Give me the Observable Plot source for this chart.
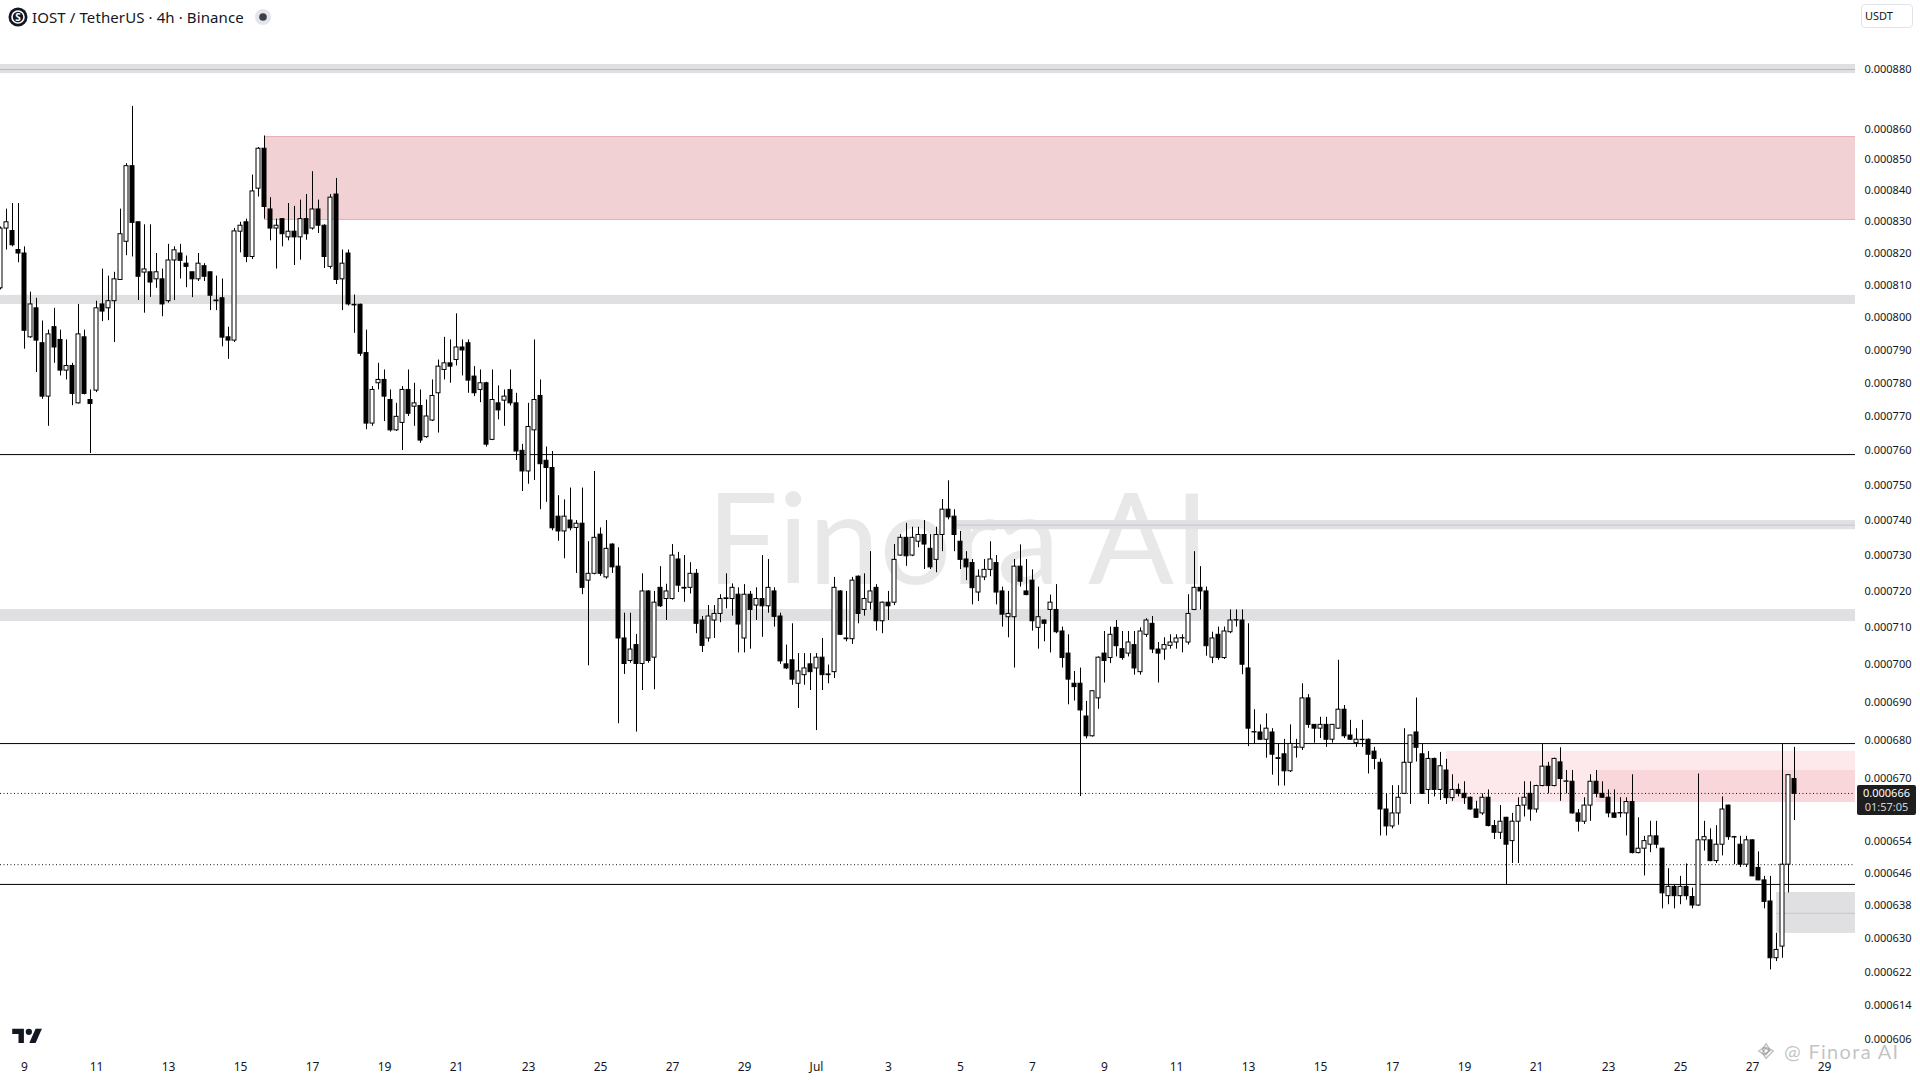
<!DOCTYPE html>
<html>
<head>
<meta charset="utf-8">
<script src="https://cdn.jsdelivr.net/npm/d3@7"></script>
<script src="https://cdn.jsdelivr.net/npm/@observablehq/plot@0.6"></script>
<style>
  html, body { margin: 0; padding: 0; background: #ffffff; }
  #wrap { position: relative; width: 1920px; height: 1080px; overflow: hidden;
          font-family: "Noto Sans", Roboto, sans-serif; color: #131722; }
  #wrap svg.plot { position: absolute; left: 0; top: 0; }
  .ov { position: absolute; white-space: nowrap; }
</style>
</head>
<body>
<div id="wrap"></div>
<script>
// ---------------- DATA ----------------
// Prices are in micro-USDT (1e-6 USDT); first visible 4h candle opens 2025-06-08 08:00 UTC
const UNIT = 1e-6;
const START = Date.UTC(2025, 5, 8, 8);
const STEP = 4 * 3600 * 1000;

const O = [809.0,827.8,827.0,821.0,819.9,793.9,802.8,792.1,776.0,797.0,793.1,783.8,785.2,774.0,793.9,775.0,777.8,804.0,802.8,805.0,
811.6,823.6,847.9,829.8,813.9,814.0,811.8,811.8,805.0,817.7,819.9,816.7,814.0,811.8,815.9,814.0,805.2,805.9,793.9,792.9,
826.8,829.8,818.8,840.6,853.6,833.9,827.8,830.8,825.0,826.8,825.0,830.8,827.8,833.9,828.7,815.7,838.7,811.8,819.9,803.9,
803.9,789.1,768.0,780.0,781.0,775.0,766.0,768.2,778.0,773.0,773.2,764.0,768.9,777.0,784.0,786.0,787.0,790.8,792.1,782.0,
778.0,780.0,763.2,774.0,774.8,778.0,774.0,760.0,754.0,766.0,776.2,757.1,755.0,741.0,736.8,739.9,737.8,739.0,723.0,724.9,
735.9,723.9,733.1,726.9,707.1,701.0,705.3,700.2,720.0,701.9,721.0,717.9,717.9,728.9,721.0,721.0,724.9,712.0,707.1,712.0,
713.8,717.9,717.9,719.1,707.1,719.1,716.1,717.9,715.9,720.0,713.1,700.1,701.2,694.9,697.2,700.1,699.0,701.9,697.2,698.0,
720.0,706.9,706.9,724.1,714.9,716.9,721.0,711.8,716.9,716.9,730.0,735.0,730.0,733.9,735.8,731.9,728.8,735.8,743.0,741.0,
733.9,728.9,727.9,719.7,723.9,726.0,727.9,720.0,712.9,712.9,726.9,720.0,723.0,710.0,712.0,714.9,714.9,709.0,703.0,694.9,
694.9,686.2,681.0,691.0,703.0,701.8,710.0,704.2,703.0,705.3,698.0,708.1,711.1,704.1,704.1,705.1,706.0,707.1,706.0,714.9,
721.0,720.0,701.9,708.1,701.8,708.8,712.0,712.0,699.0,682.0,682.0,680.1,682.0,675.1,676.3,671.9,678.0,678.0,691.0,684.0,
683.0,684.0,680.1,683.0,688.0,681.2,679.2,680.1,680.1,677.0,674.1,662.1,657.8,661.1,666.1,674.1,682.0,676.3,667.1,675.1,
667.1,672.1,665.0,667.1,666.1,665.1,662.1,661.1,665.1,657.9,656.2,660.0,654.1,659.0,663.1,666.1,662.1,668.1,673.1,668.1,
674.2,669.2,669.2,661.1,659.0,663.1,669.2,666.1,665.1,661.1,661.1,661.1,664.0,651.1,652.2,653.2,655.3,652.2,640.4,642.7,
640.4,642.7,640.2,638.1,654.3,654.3,649.1,653.2,663.1,655.1,653.2,648.2,654.3,647.4,644.3,639.1,625.3,628.1,648.2,669.9];

const H = [828.3,834.0,835.8,835.8,822.0,807.8,805.9,798.9,796.1,802.8,796.1,793.1,786.0,804.0,796.1,778.0,805.0,815.0,812.8,814.0,
834.0,848.7,867.6,829.8,829.0,829.0,819.9,815.0,822.8,822.0,822.8,819.1,814.0,819.9,816.7,814.0,812.8,811.9,797.0,827.8,
829.8,830.8,845.0,854.0,857.8,837.7,830.8,831.0,835.8,834.9,836.9,838.7,846.1,836.9,829.0,838.7,843.9,821.0,821.0,806.9,
804.1,796.1,779.0,786.0,784.0,778.0,774.0,779.0,784.0,780.0,778.0,775.0,781.0,787.0,793.9,793.1,801.1,793.1,793.1,785.0,
784.0,780.3,784.0,779.2,778.0,784.0,777.0,761.9,774.0,793.1,781.0,761.1,759.8,747.0,745.8,749.2,739.9,749.2,733.9,754.0,
737.8,739.9,733.3,732.2,714.0,714.0,708.2,724.9,720.2,720.0,726.9,722.0,733.1,730.9,730.0,728.0,726.1,713.1,716.1,716.1,
719.1,724.9,722.1,721.0,721.9,720.0,721.0,730.0,728.9,721.0,714.0,705.3,711.1,703.0,703.0,703.0,703.0,707.1,699.9,723.9,
720.2,720.0,723.9,724.3,724.9,731.1,721.9,717.1,720.0,733.1,735.9,739.1,738.0,738.0,739.9,735.9,738.0,745.9,751.3,743.0,
736.8,731.1,728.9,726.0,728.9,733.9,730.0,721.2,720.0,728.9,733.0,728.9,726.0,721.2,712.2,719.0,721.9,710.2,708.1,698.2,
699.1,690.2,693.1,702.1,709.0,710.2,712.0,709.0,709.0,709.0,710.0,712.5,713.1,706.0,707.3,708.1,708.1,708.1,719.1,731.1,
726.9,721.2,708.8,710.2,710.2,714.9,714.9,714.9,711.1,688.0,684.0,686.9,683.0,679.0,680.2,684.0,680.2,694.9,692.0,684.1,
686.0,686.0,684.1,701.2,689.1,685.2,683.0,685.2,680.3,678.1,675.1,666.1,668.2,668.2,683.0,681.3,691.1,679.0,677.0,675.3,
676.8,675.0,671.0,668.6,669.2,665.3,664.2,666.1,667.1,659.3,663.1,660.1,661.1,665.1,669.2,669.2,668.3,678.9,674.2,675.3,
678.0,672.1,672.1,662.1,665.1,671.0,672.1,669.2,667.1,667.1,665.1,665.1,671.0,660.0,655.3,659.1,659.1,652.3,647.2,643.2,
645.3,648.4,642.4,671.2,659.1,657.2,658.0,665.3,663.2,655.3,655.3,655.3,654.4,651.4,645.3,645.3,631.3,678.9,671.0,678.1];

const L = [808.5,821.0,822.0,817.0,790.3,793.6,783.2,775.2,767.2,786.0,782.2,781.0,773.3,773.8,776.5,759.2,777.2,798.7,799.0,792.3,
811.6,819.2,818.8,805.2,801.3,806.2,809.0,800.2,804.4,805.2,811.9,809.2,806.1,811.1,811.1,802.1,802.1,791.0,787.2,792.3,
820.1,817.0,818.0,837.9,830.8,823.9,815.0,822.0,823.9,816.1,817.8,824.1,827.3,826.2,815.2,815.0,810.2,802.1,803.5,795.1,
788.1,766.2,767.2,778.0,768.6,765.5,765.7,760.1,770.1,767.2,762.2,763.7,768.6,765.2,781.0,780.0,785.2,782.2,777.0,776.0,
774.2,761.1,763.0,769.1,767.2,773.2,757.2,748.2,750.3,751.4,743.0,745.1,737.0,734.0,729.1,737.0,725.0,719.1,699.7,724.6,
724.2,723.4,725.0,684.3,697.4,700.4,682.1,693.1,700.4,693.3,715.6,712.0,717.6,719.7,717.0,719.3,708.4,703.3,706.1,707.1,
711.4,715.2,713.2,703.2,703.2,704.2,712.0,707.4,714.0,710.2,700.1,698.7,694.5,688.3,694.5,693.1,682.5,693.1,694.9,696.3,
707.9,706.2,705.5,711.1,713.2,714.9,709.1,708.4,712.0,716.1,729.8,727.0,729.7,732.2,726.1,726.1,725.2,731.1,740.1,731.1,
726.1,723.0,716.3,717.2,723.0,724.1,716.3,710.2,707.3,699.1,721.2,718.8,709.1,704.2,706.2,703.2,708.4,699.1,689.3,690.3,
665.4,680.3,680.8,688.1,695.1,700.3,702.1,701.2,702.1,697.2,697.2,707.4,703.0,695.1,701.2,704.2,704.2,703.2,705.3,714.7,
714.9,702.3,700.3,701.2,701.4,708.4,710.2,697.3,678.3,679.0,679.9,675.3,670.9,668.1,668.1,671.6,675.3,677.3,683.1,679.2,
680.4,678.1,679.2,682.8,680.4,679.9,678.1,678.1,671.2,672.3,655.4,655.4,657.2,658.1,665.9,663.4,674.3,665.9,663.4,665.3,
664.4,663.4,664.2,665.3,663.4,661.9,659.8,660.6,657.7,654.5,654.5,643.3,648.5,648.5,660.2,659.1,661.2,667.9,666.1,667.9,
664.2,666.1,660.9,656.4,658.3,659.1,665.1,665.0,660.0,659.9,660.0,655.4,650.9,650.9,645.4,651.2,652.2,637.3,638.3,637.3,
638.3,639.4,637.3,637.9,651.6,648.9,648.5,650.4,654.3,648.2,647.5,647.5,645.2,644.2,637.3,622.5,624.5,625.3,641.2,659.3];

const C = [827.8,829.8,822.5,819.9,795.9,804.0,792.9,776.0,794.8,790.8,783.8,785.2,776.8,794.8,776.8,773.8,802.8,801.8,805.0,811.8,
826.0,847.9,829.6,812.6,814.9,810.8,814.0,804.0,817.7,820.9,817.6,815.7,811.8,816.7,812.6,806.7,805.0,793.8,792.9,826.9,
828.7,818.8,839.7,853.6,834.7,827.8,828.7,826.0,826.8,825.0,830.8,826.0,833.9,828.7,818.8,837.7,811.6,816.7,804.0,803.7,
788.9,768.0,778.0,781.0,776.0,766.0,770.0,778.0,770.9,774.0,763.0,770.1,776.2,785.0,786.0,785.0,790.8,789.9,780.8,777.0,
780.0,761.8,775.0,771.9,776.0,774.0,759.8,754.0,767.0,775.0,756.1,755.0,737.7,736.8,741.0,737.7,739.0,721.0,724.9,735.0,
724.9,731.9,726.7,707.1,700.2,704.1,700.2,720.0,701.0,716.9,715.9,720.0,730.0,721.6,720.8,724.9,711.1,705.1,713.1,713.8,
717.9,718.1,721.0,710.9,719.1,714.9,717.9,715.9,721.0,713.0,700.9,699.0,696.0,698.2,699.0,698.0,701.9,697.2,697.4,721.0,
708.1,707.1,723.0,713.8,717.9,720.0,711.8,716.9,715.9,728.8,735.0,729.8,735.0,735.8,733.1,726.7,735.8,743.0,740.8,735.8,
728.8,726.7,720.9,724.1,726.0,728.9,719.7,713.6,713.8,726.9,722.7,719.0,711.8,712.9,711.1,716.9,708.8,701.8,696.0,694.0,
687.8,681.0,692.9,701.9,701.0,708.1,705.0,701.8,706.0,699.0,709.0,712.0,704.1,703.0,705.3,706.0,707.1,707.2,713.8,721.0,
720.0,705.0,707.1,701.8,709.0,712.0,712.1,700.0,683.0,682.1,680.1,683.0,676.2,675.3,671.9,679.0,678.1,691.0,684.0,683.0,
684.0,680.1,684.0,688.0,681.0,680.1,680.1,680.0,676.2,675.1,662.1,657.8,661.1,665.1,674.1,681.2,678.0,666.1,675.1,667.1,
673.2,665.0,667.1,666.1,665.0,662.1,660.0,665.1,657.9,656.2,659.0,653.2,659.0,663.0,665.1,662.1,668.1,673.1,668.1,675.1,
669.9,669.3,661.1,659.0,663.1,669.2,666.1,665.1,661.1,660.0,661.2,664.0,651.1,652.2,654.1,655.3,653.2,641.1,642.7,640.4,
642.7,640.4,638.1,654.3,655.1,649.1,653.2,662.1,655.1,655.0,648.2,654.3,645.3,644.3,639.0,625.3,627.3,648.2,670.9,666.1];

// Horizontal price levels (micro-USDT)
const greyBands = [ { lo: 878.6, hi: 881.7, mid: 880.0 }, { lo: 804.0, hi: 806.8 }, { lo: 711.7, hi: 715.0 } ];
const solidLevels = [758.9, 679.1, 643.3];
const dottedLevels = [666.2, 648.2];
// Zones that start at a given candle (1-based index) and run to the right edge
const zones = [
  { kind: "supply",   start: 45,  lo: 830.7, hi: 857.6 },
  { kind: "band",     start: 160, lo: 737.3, hi: 739.9, mid: 738.6 },
  { kind: "fvgLight", start: 242, lo: 663.9, hi: 677.1 },
  { kind: "fvgDark",  start: 267, lo: 663.9, hi: 672.1 },
  { kind: "greyBox",  start: 297, lo: 631.3, hi: 641.3, mid: 636.2 }
];
// Axis ticks
const yTicks = [880, 860, 850, 840, 830, 820, 810, 800, 790, 780, 770, 760, 750, 740, 730, 720, 710, 700, 690, 680, 670, 654, 646, 638, 630, 622, 614, 606];
const xTickDays = ["2025-06-09","2025-06-11","2025-06-13","2025-06-15","2025-06-17","2025-06-19","2025-06-21","2025-06-23","2025-06-25","2025-06-27","2025-06-29",
  "2025-07-01","2025-07-03","2025-07-05","2025-07-07","2025-07-09","2025-07-11","2025-07-13","2025-07-15","2025-07-17","2025-07-19","2025-07-21","2025-07-23","2025-07-25","2025-07-27","2025-07-29"];
const lastPrice = 666.1;
const countdown = "01:57:05";

// ---------------- BUILD ----------------
const candles = O.map((o, i) => ({ t: new Date(START + i * STEP), o: o * UNIT, h: H[i] * UNIT, l: L[i] * UNIT, c: C[i] * UNIT }));
const up = candles.filter(d => d.c >= d.o);
const down = candles.filter(d => d.c < d.o);
const X0 = new Date(START);
const XEND = new Date(START + (1855 / 6) * STEP);
const HALF = STEP / 3; // half body width in time
const candleTime = k => new Date(START + (k - 1) * STEP);
const xTicks = xTickDays.map(s => new Date(s + "T00:00:00Z"));

const zoneFill = { supply: "#f2d1d5", band: "#e1e1e4", fvgLight: "#fde9eb", fvgDark: "#f9d6da", greyBox: "#e0e0e2" };
const supply = zones.filter(d => d.kind === "supply");

const plot = Plot.plot({
  width: 1920,
  height: 1080,
  marginLeft: 0,
  marginRight: 65,
  marginTop: 0,
  marginBottom: 25,
  style: { background: "#ffffff", fontFamily: "'Noto Sans', Roboto, sans-serif", fontSize: "11px", color: "#131722" },
  x: { type: "utc", domain: [X0, XEND], axis: null, label: null },
  y: { type: "log", domain: [602.35 * UNIT, 903.66 * UNIT], axis: null, label: null },
  marks: [
    Plot.text(["Finora AI"], { frameAnchor: "top-left", textAnchor: "start", lineAnchor: "bottom", dx: 706, dy: 583,
      fontSize: 127, fontFamily: "Lato", fontWeight: 400, fill: "#000000", fillOpacity: 0.09 }),
    // full-width grey bands
    Plot.rect(greyBands, { x1: () => X0, x2: () => XEND, y1: d => d.lo * UNIT, y2: d => d.hi * UNIT, fill: "#e0e0e3" }),
    Plot.ruleY(greyBands.filter(d => d.mid), { y: d => d.mid * UNIT, stroke: "#b9b9bf", strokeWidth: 1 }),
    // zones
    Plot.rect(zones, { x1: d => candleTime(d.start), x2: () => XEND, y1: d => d.lo * UNIT, y2: d => d.hi * UNIT,
      fill: d => zoneFill[d.kind] }),
    Plot.ruleY(supply.flatMap(d => [{ s: d.start, v: d.lo }, { s: d.start, v: d.hi }]),
      { x1: d => candleTime(d.s), x2: () => XEND, y: d => d.v * UNIT, stroke: "#e7aeb6", strokeWidth: 1 }),
    Plot.ruleY(zones.filter(d => d.mid), { x1: d => candleTime(d.start), x2: () => XEND, y: d => d.mid * UNIT, stroke: "#c6c6cb", strokeWidth: 1 }),
    // level lines
    Plot.ruleY(solidLevels.map(v => v * UNIT), { stroke: "#000000", strokeWidth: 1 }),
    Plot.ruleY(dottedLevels.map(v => v * UNIT), { stroke: "#131722", strokeWidth: 1, strokeDasharray: "1,2.5" }),
    // candles
    Plot.ruleX(candles, { x: "t", y1: "l", y2: "h", stroke: "#000000", strokeWidth: 1 }),
    Plot.rect(up, { x1: d => new Date(+d.t - HALF), x2: d => new Date(+d.t + HALF), y1: "o", y2: "c", fill: "#ffffff", stroke: "#000000", strokeWidth: 1 }),
    Plot.rect(down, { x1: d => new Date(+d.t - HALF), x2: d => new Date(+d.t + HALF), y1: "o", y2: "c", fill: "#000000", stroke: "#000000", strokeWidth: 1 }),
    // x axis labels
    Plot.text(xTicks, { x: d => d, frameAnchor: "bottom", lineAnchor: "top", dy: 7,
      text: d => d.getUTCDate() === 1 ? "Jul" : String(d.getUTCDate()), fontSize: 12, fill: "#131722" }),
    // y axis labels (price scale on the right)
    Plot.text(yTicks, { x: () => XEND, y: d => d * UNIT, dx: 9, textAnchor: "start", lineAnchor: "middle",
      text: d => (d * UNIT).toFixed(6), fontSize: 11, fill: "#131722" })
  ]
});
plot.classList.add("plot");
const wrap = document.getElementById("wrap");
wrap.appendChild(plot);

// ---------------- OVERLAYS ----------------
const ys = plot.scale("y");
const yLast = ys.apply(lastPrice * UNIT);

const header = document.createElement("div");
header.className = "ov";
header.style.cssText = "left:8px;top:6px;height:22px;display:flex;align-items:center;";
header.innerHTML =
  '<svg width="20" height="20" viewBox="0 0 20 20"><circle cx="10" cy="10" r="9.5" fill="#131722"/>' +
  '<circle cx="10" cy="10" r="6" fill="none" stroke="#fff" stroke-width="1.6"/>' +
  '<text x="10" y="13.6" text-anchor="middle" font-size="10" font-weight="700" fill="#fff" font-family="Noto Sans">S</text></svg>' +
  '<span style="font-size:15px;margin-left:4px;letter-spacing:0.1px;">IOST / TetherUS · 4h · Binance</span>' +
  '<svg width="20" height="20" viewBox="0 0 20 20" style="margin-left:9px"><circle cx="10" cy="10" r="8" fill="#e3e5ea"/><circle cx="10" cy="10" r="3.8" fill="#3c3f47"/></svg>';
wrap.appendChild(header);

const usdt = document.createElement("div");
usdt.className = "ov";
usdt.style.cssText = "left:1861px;top:4px;width:52px;height:24px;border:1px solid #e0e3eb;border-radius:4px;box-sizing:border-box;font-size:11px;line-height:22px;padding-left:3px;";
usdt.textContent = "USDT";
wrap.appendChild(usdt);

const lastLbl = document.createElement("div");
lastLbl.className = "ov";
lastLbl.style.cssText = `left:1857px;top:${yLast - 8}px;width:59px;height:30px;background:#1e1e1e;border-radius:2px;color:#ffffff;font-size:11px;line-height:14px;padding-top:1px;box-sizing:border-box;text-align:center;`;
lastLbl.innerHTML = `${(lastPrice * UNIT).toFixed(6)}<br><span style="color:#d1d4dc">${countdown}</span>`;
wrap.appendChild(lastLbl);

const tv = document.createElement("div");
tv.className = "ov";
tv.style.cssText = "left:11px;top:1026px;";
tv.innerHTML = '<svg width="33" height="18" viewBox="0 0 36 20"><path d="M14 19H8V9H1V3h13z" fill="#131722"/><circle cx="19.5" cy="6.5" r="3.5" fill="#131722"/><path d="M27 19h-7l7-16h7z" fill="#131722"/></svg>';
wrap.appendChild(tv);

const wm = document.createElement("div");
wm.className = "ov";
wm.style.cssText = "left:1756px;top:1043px;height:16px;display:flex;align-items:center;color:rgba(120,120,120,0.45);font-size:20px;line-height:16px;letter-spacing:1.3px;font-family:Lato, 'Noto Sans', sans-serif;";
wm.innerHTML = '<svg width="20" height="20" viewBox="0 0 22 22" style="margin-right:8px"><g fill="none" stroke="rgba(120,120,120,0.45)" stroke-width="1.6">' +
  '<path d="M11 3 L15 9 L11 15 L7 9 Z"/><path d="M3 11 L9 7 L15 11 L9 15 Z"/><path d="M11 7 L19 11 L11 19 L7 13 Z"/></g></svg>' +
  '<span>@ Finora AI</span>';
wrap.appendChild(wm);
</script>
</body>
</html>
